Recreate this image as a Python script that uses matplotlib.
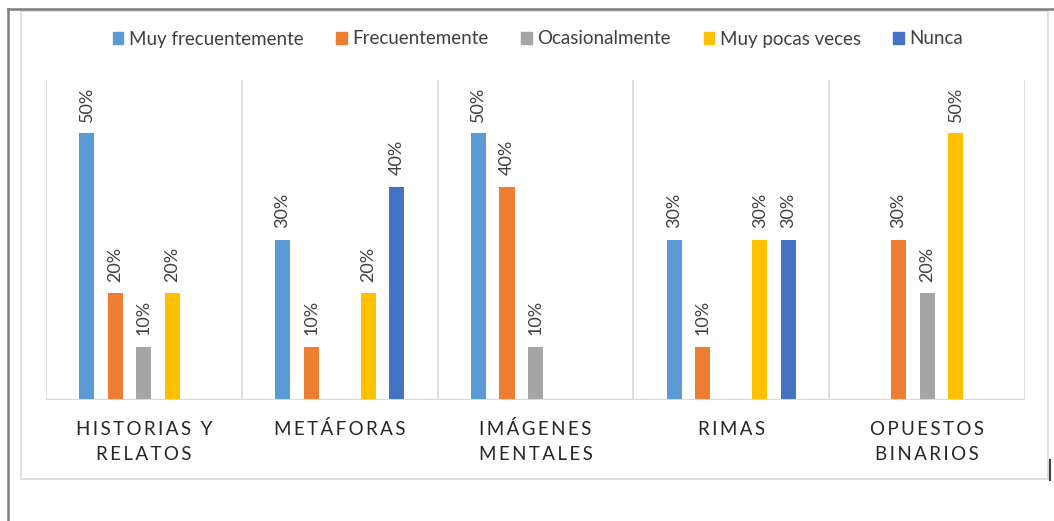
import matplotlib
matplotlib.use("Agg")
import matplotlib.pyplot as plt
from matplotlib.lines import Line2D
from matplotlib.patches import Rectangle
import numpy as np

plt.rcParams['font.family'] = ['Lato', 'DejaVu Sans']

categories = [["HISTORIAS Y", "RELATOS"], ["METÁFORAS"], ["IMÁGENES", "MENTALES"], ["RIMAS"], ["OPUESTOS", "BINARIOS"]]
series_names = ["Muy frecuentemente", "Frecuentemente", "Ocasionalmente", "Muy pocas veces", "Nunca"]
muy_frecuentemente = [0.50, 0.30, 0.50, 0.30, 0.0]
frecuentemente = [0.20, 0.10, 0.40, 0.10, 0.30]
ocasionalmente = [0.10, 0.0, 0.10, 0.0, 0.20]
muy_pocas_veces = [0.20, 0.20, 0.0, 0.30, 0.50]
nunca = [0.0, 0.40, 0.0, 0.30, 0.0]
series = [muy_frecuentemente, frecuentemente, ocasionalmente, muy_pocas_veces, nunca]
colors = ["#5B9BD5", "#ED7D31", "#A5A5A5", "#FFC000", "#4472C4"]

W, H = 1054, 521
fig = plt.figure(figsize=(W / 100, H / 100), dpi=100)

# outer frame lines
fig.add_artist(Line2D([8 / W, 1.0], [1 - 9 / H, 1 - 9 / H], color="#7F7F7F", lw=1.8, transform=fig.transFigure))
fig.add_artist(Line2D([8 / W, 8 / W], [0, 1 - 9 / H], color="#7F7F7F", lw=1.8, transform=fig.transFigure))
# chart area box
fig.add_artist(Rectangle((21 / W, 1 - 479 / H), (1048 - 21) / W, (479 - 11) / H, fill=False,
                         ec="#D9D9D9", lw=1.2, transform=fig.transFigure))
fig.add_artist(Line2D([1050 / W, 1050 / W], [1 - 480 / H, 1 - 460 / H], color="#404040", lw=1.5, transform=fig.transFigure))

ax = fig.add_axes([46 / W, 1 - 400 / H, (1025 - 46) / W, (400 - 80) / H])
n = len(categories)
x = np.arange(n)
slot = 0.1457
bw = 0.077
for i, (vals, col) in enumerate(zip(series, colors)):
    pos = x + (i - 2) * slot
    vals = np.array(vals)
    ax.bar(pos, vals, width=bw, color=col, label=series_names[i], zorder=3)
    for p, v in zip(pos, vals):
        if v > 0:
            ax.text(p, v + 0.022, f"{int(round(v * 100))}%", rotation=90, ha="center", va="bottom",
                    fontsize=13, color="#404040")

ax.set_xlim(-0.5, n - 0.5)
ax.set_ylim(0, 0.6)
for b in np.arange(-0.5, n, 1.0):
    ax.axvline(b, color="#D9D9D9", lw=1.2, zorder=1)
for s in ax.spines.values():
    s.set_visible(False)
ax.axhline(0, color="#D9D9D9", lw=1.5, zorder=4)
ax.set_yticks([])
ax.set_xticks([])
for xi, lab in zip(x, categories):
    for j, line in enumerate(lab):
        spaced = "\u2009".join(line)
        ax.text(xi, -0.0545 - j * 0.0469, spaced, ha="center", va="center", fontsize=13.5,
                color="#262626", transform=ax.transData, clip_on=False)
ax.set_facecolor("none")

handles = [Rectangle((0, 0), 1, 1, color=c) for c in colors]
fig.legend(handles, series_names, loc="center", bbox_to_anchor=(538 / W, 1 - 39 / H), ncol=5,
           frameon=False, fontsize=13.5, handlelength=0.55, handleheight=0.55, handletextpad=0.3,
           columnspacing=1.75, labelcolor="#404040")

fig.savefig("out.png", dpi=100)
